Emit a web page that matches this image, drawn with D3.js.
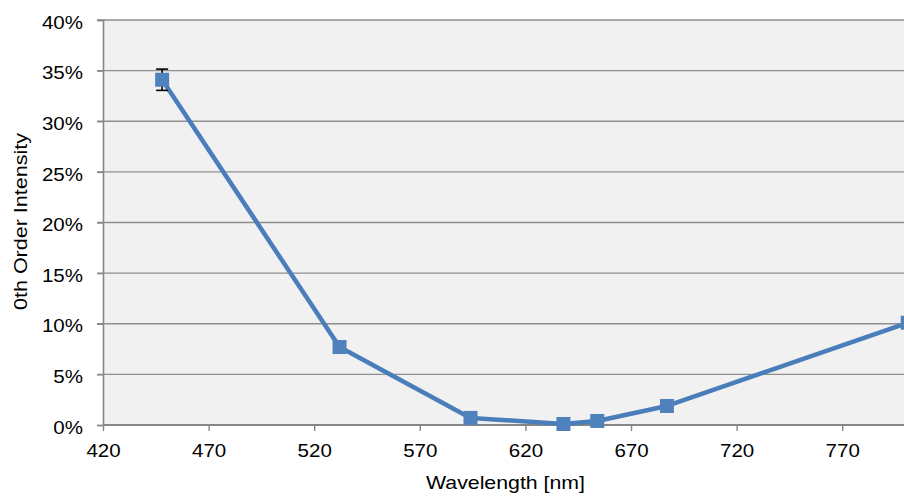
<!DOCTYPE html>
<html><head><meta charset="utf-8">
<script src="https://cdn.jsdelivr.net/npm/d3@7"></script>
<style>body{margin:0;background:#fff}svg{display:block}text{font-family:"Liberation Sans",Arial,sans-serif;fill:#000}</style>
</head><body>
<svg id="c" width="904" height="497"></svg>
<script>
const wavelengths = [448, 532, 594, 638, 654, 687, 801];
const intensity = [0.341, 0.077, 0.007, 0.001, 0.004, 0.0188, 0.101];
const errors = [0.0105, 0, 0, 0, 0, 0, 0];
const xTicks = [420, 470, 520, 570, 620, 670, 720, 770];
const yTicks = [0, 0.05, 0.10, 0.15, 0.20, 0.25, 0.30, 0.35, 0.40];
const xTitle = "Wavelength [nm]";
const yTitle = "0th Order Intensity";

const svg = d3.select("#c");
const L = 103, R = 905.6, T = 20, B = 425;
const x = d3.scaleLinear().domain([420, 800]).range([L, R]);
const y = d3.scaleLinear().domain([0, 0.40]).range([B, T]);
const stretch = 1.11;

svg.append("rect").attr("x", L).attr("y", T).attr("width", 904 - L).attr("height", B - T).attr("fill", "#f1f1f1");

// gridlines
svg.append("g").selectAll("line").data(yTicks.filter(d => d > 0)).join("line")
  .attr("x1", L - 6).attr("x2", 904).attr("y1", d => y(d)).attr("y2", d => y(d))
  .attr("stroke", "#8e8e8e").attr("stroke-width", 1.4);

// y axis
const yAxis = svg.append("g").attr("transform", `translate(${L},0)`)
  .call(d3.axisLeft(y).tickValues(yTicks).tickSize(6).tickPadding(14).tickFormat(d3.format(".0%")));
yAxis.select(".domain").attr("stroke", "#868686").attr("stroke-width", 1.6);
yAxis.selectAll(".tick line").attr("stroke", "#868686").attr("stroke-width", 1.4);
yAxis.selectAll("text").attr("font-size", 18.5).attr("font-family", "Liberation Sans").attr("dy", "0.44em");

// x axis
const xAxis = svg.append("g").attr("transform", `translate(0,${B})`)
  .call(d3.axisBottom(x).tickValues(xTicks).tickSize(6).tickPadding(0).tickFormat(d3.format("d")));
xAxis.select(".domain").attr("stroke", "#868686").attr("stroke-width", 1.8).attr("d", `M${L},0H904`);
xAxis.selectAll(".tick line").attr("stroke", "#868686").attr("stroke-width", 1.4);
xAxis.selectAll("text").attr("font-size", 18.5).attr("font-family", "Liberation Sans").attr("y", 32).attr("dy", 0);

svg.selectAll("g.tick text").each(function(){
  const len = this.getComputedTextLength();
  d3.select(this).attr("textLength", len * stretch).attr("lengthAdjust", "spacingAndGlyphs");
});

// titles
svg.append("text").attr("x", 505.5).attr("y", 488.5).attr("text-anchor", "middle")
  .attr("font-size", 18.5).attr("textLength", 159).attr("lengthAdjust", "spacingAndGlyphs").text(xTitle);
svg.append("text").attr("transform", "translate(27,221.5) rotate(-90)").attr("text-anchor", "middle")
  .attr("font-size", 18.5).attr("textLength", 177).attr("lengthAdjust", "spacingAndGlyphs").text(yTitle);

const data = wavelengths.map((w, i) => ({w, v: intensity[i], e: errors[i]}));

// line
svg.append("path").datum(data)
  .attr("d", d3.line().x(d => x(d.w)).y(d => y(d.v)))
  .attr("fill", "none").attr("stroke", "#4a7ebb").attr("stroke-width", 4.5).attr("stroke-linejoin", "round");

// error bars
const eb = svg.append("g").attr("stroke", "#000").attr("stroke-width", 1.6);
data.filter(d => d.e > 0).forEach(d => {
  eb.append("line").attr("x1", x(d.w)).attr("x2", x(d.w)).attr("y1", y(d.v - d.e)).attr("y2", y(d.v + d.e));
  [d.v - d.e, d.v + d.e].forEach(v => eb.append("line").attr("x1", x(d.w) - 6).attr("x2", x(d.w) + 6).attr("y1", y(v)).attr("y2", y(v)));
});

// markers
svg.append("g").selectAll("rect").data(data).join("rect")
  .attr("x", d => x(d.w) - 7).attr("y", d => y(d.v) - 7).attr("width", 14).attr("height", 14)
  .attr("fill", "#4f81bd");
</script>
</body></html>
